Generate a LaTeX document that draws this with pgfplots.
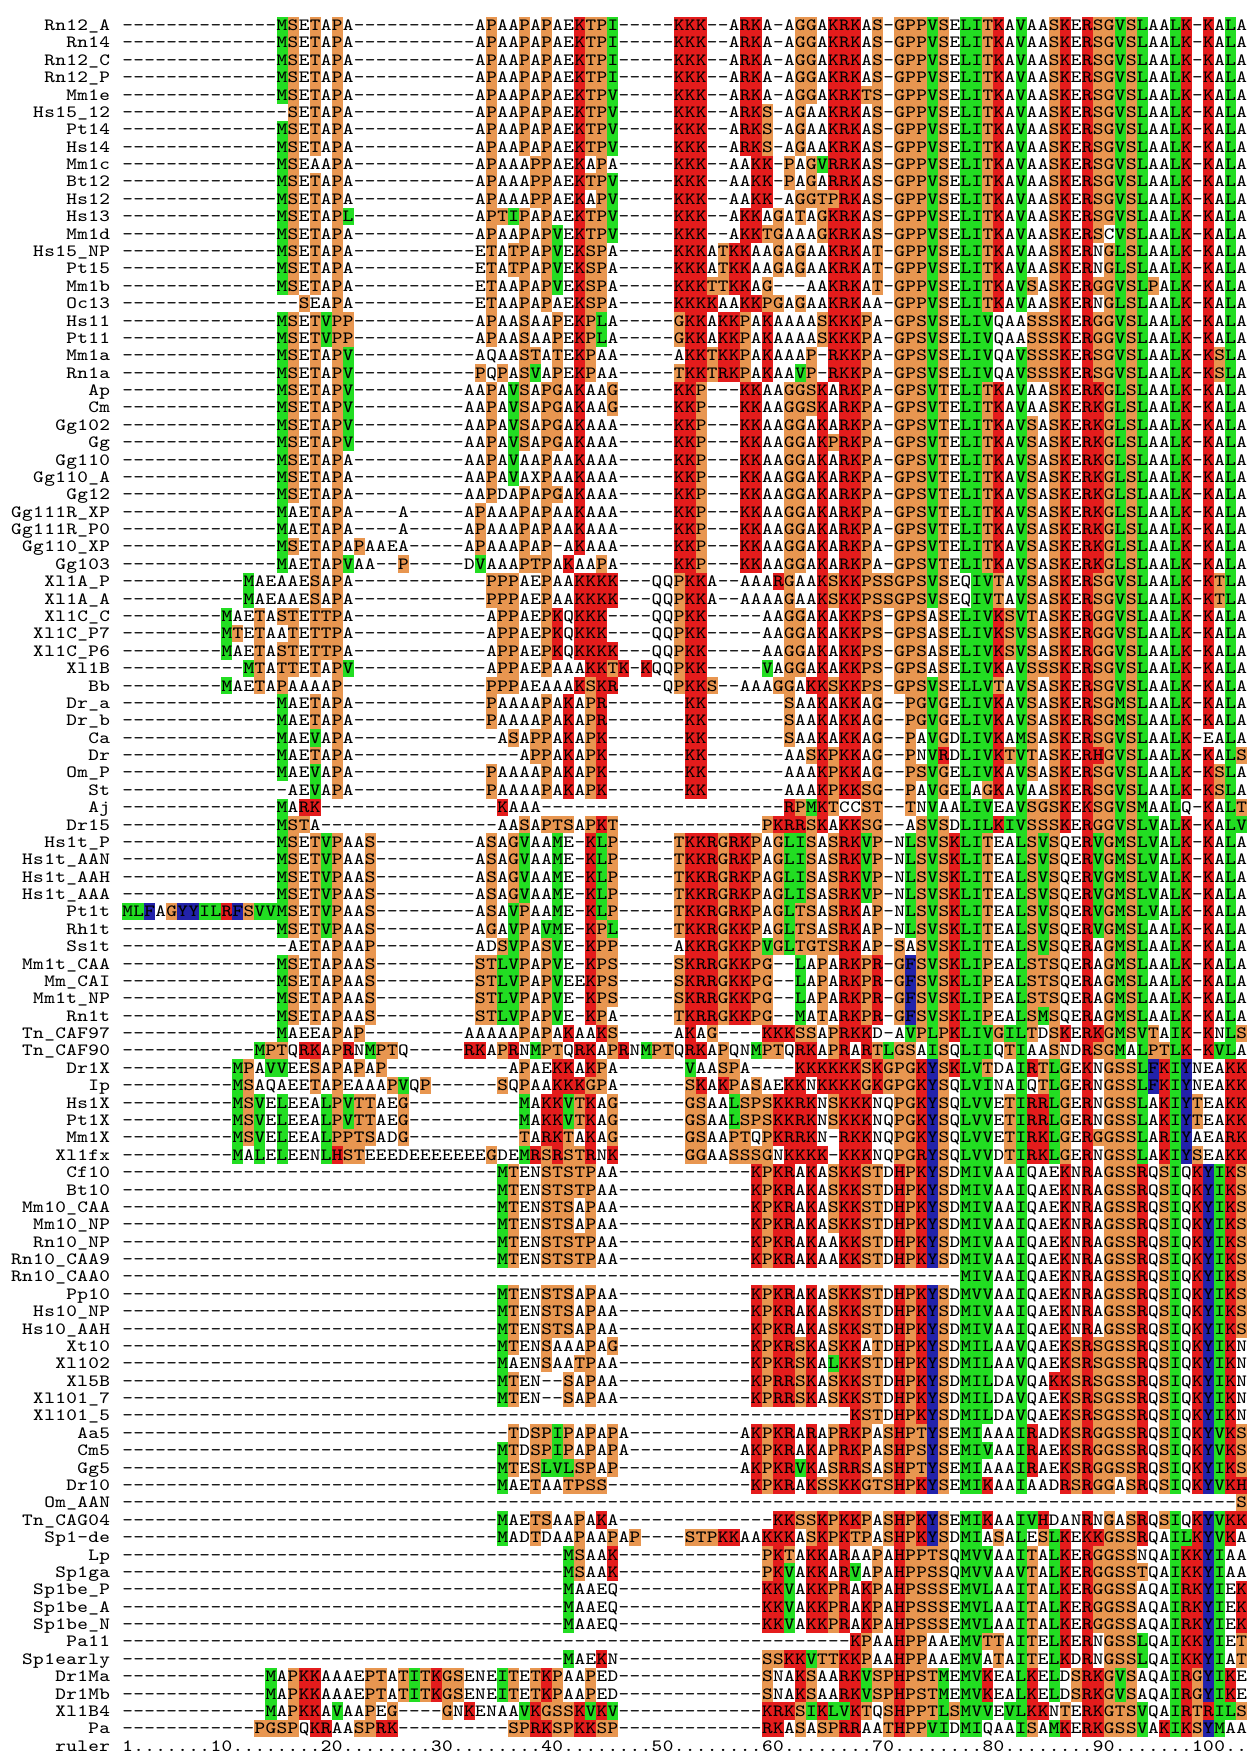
\documentclass[border=0pt]{standalone}
\usepackage{graphicx}
\usepackage{pgfplots}
\pgfplotsset{compat=1.18}
\definecolor{cR}{RGB}{228,28,28}
\definecolor{cO}{RGB}{232,150,80}
\definecolor{cG}{RGB}{34,221,34}
\definecolor{cB}{RGB}{34,34,170}
\newdimen\cw \cw=5.515pt
\newdimen\rh \rh=8.69pt
\newdimen\rd \rd=1.715pt
\newcount\dcnt
\newcount\colno
\def\cellbg#1{\rlap{\color{#1}\rule[-\rd]{\cw}{\rh}}}
\def\setbg#1#2{\expandafter\def\csname bg@#1\endcsname{\cellbg{#2}}}
\setbg{K}{cR}\setbg{R}{cR}\setbg{H}{cR}
\setbg{V}{cG}\setbg{I}{cG}\setbg{L}{cG}\setbg{M}{cG}
\setbg{S}{cO}\setbg{T}{cO}\setbg{P}{cO}\setbg{G}{cO}
\setbg{Y}{cB}\setbg{F}{cB}\setbg{W}{cB}
\def\glyph#1{\makebox[\cw][c]{\scalebox{1.18}[1]{#1}}}
\def\cell#1{\advance\colno by 1 \ifnum\colno<103 \ifcsname bg@#1\endcsname\csname bg@#1\endcsname\fi\glyph{#1}\fi}
\def\seq#1{\colno=0 \seqloop#1\relax}
\def\seqloop#1{\ifx#1\relax\let\seqnext\relax\else\ifx#1/\let\seqnext\dashrun\else\cell{#1}\let\seqnext\seqloop\fi\fi\seqnext}
\def\dashrun#1/{\dcnt=#1\relax\dashloop}
\def\dashloop{\ifnum\dcnt>0 \cell{-}\advance\dcnt by -1 \expandafter\dashloop\else\expandafter\seqloop\fi}
\def\nm#1{\nmloop#1\relax}
\def\nmloop#1{\ifx#1\relax\else\glyph{#1}\expandafter\nmloop\fi}
\newcommand\row[3]{%
  \node[anchor=base east,inner sep=0pt] at (axis cs:110.67,{30.55+(#1-1)*17.38}) {\nm{#2}};
  \node[anchor=base west,inner sep=0pt] at (axis cs:121.7,{30.55+(#1-1)*17.38}) {\seq{#3}};}
\begin{document}
\begin{tikzpicture}[font=\fontsize{8.6}{8.6}\selectfont\ttfamily]
\begin{axis}[width=627pt,height=876.5pt,scale only axis,xmin=0,xmax=1254,ymin=0,ymax=1753,y dir=reverse,hide axis,clip=false]
\addplot[draw=none,forget plot] coordinates {(0,0) (1254,1753)};
\row{1}{Rn12\_A}{/14/MSETAPA/11/APAAPAPAEKTPI/5/KKK--ARKA-AGGAKRKAS-GPPVSELITKAVAASKERSGVSLAALK-KALAA}
\row{2}{Rn14}{/14/MSETAPA/11/APAAPAPAEKTPI/5/KKK--ARKA-AGGAKRKAS-GPPVSELITKAVAASKERSGVSLAALK-KALAA}
\row{3}{Rn12\_C}{/14/MSETAPA/11/APAAPAPAEKTPI/5/KKK--ARKA-AGGAKRKAS-GPPVSELITKAVAASKERSGVSLAALK-KALAA}
\row{4}{Rn12\_P}{/14/MSETAPA/11/APAAPAPAEKTPI/5/KKK--ARKA-AGGAKRKAS-GPPVSELITKAVAASKERSGVSLAALK-KALAA}
\row{5}{Mm1e}{/14/MSETAPA/11/APAAPAPAEKTPV/5/KKK--ARKA-AGGAKRKTS-GPPVSELITKAVAASKERSGVSLAALK-KALAA}
\row{6}{Hs15\_12}{/15/SETAPA/11/APAAPAPAEKTPV/5/KKK--ARKS-AGAAKRKAS-GPPVSELITKAVAASKERSGVSLAALK-KALAA}
\row{7}{Pt14}{/14/MSETAPA/11/APAAPAPAEKTPV/5/KKK--ARKS-AGAAKRKAS-GPPVSELITKAVAASKERSGVSLAALK-KALAA}
\row{8}{Hs14}{/14/MSETAPA/11/APAAPAPAEKTPV/5/KKK--ARKS-AGAAKRKAS-GPPVSELITKAVAASKERSGVSLAALK-KALAA}
\row{9}{Mm1c}{/14/MSEAAPA/11/APAAAPPAEKAPA/5/KKK--AAKK-PAGVRRKAS-GPPVSELITKAVAASKERSGVSLAALK-KALAA}
\row{10}{Bt12}{/14/MSETAPA/11/APAAAPPAEKTPV/5/KKK--AAKK-PAGARRKAS-GPPVSELITKAVAASKERSGVSLAALK-KALAA}
\row{11}{Hs12}{/14/MSETAPA/11/APAAAPPAEKAPV/5/KKK--AAKK-AGGTPRKAS-GPPVSELITKAVAASKERSGVSLAALK-KALAA}
\row{12}{Hs13}{/14/MSETAPL/11/APTIPAPAEKTPV/5/KKK--AKKAGATAGKRKAS-GPPVSELITKAVAASKERSGVSLAALK-KALAA}
\row{13}{Mm1d}{/14/MSETAPA/11/APAAPAPVEKTPV/5/KKK--AKKTGAAAGKRKAS-GPPVSELITKAVAASKERSCVSLAALK-KALAA}
\row{14}{Hs15\_NP}{/14/MSETAPA/11/ETATPAPVEKSPA/5/KKKATKKAAGAGAAKRKAT-GPPVSELITKAVAASKERNGLSLAALK-KALAA}
\row{15}{Pt15}{/14/MSETAPA/11/ETATPAPVEKSPA/5/KKKATKKAAGAGAAKRKAT-GPPVSELITKAVAASKERNGLSLAALK-KALAA}
\row{16}{Mm1b}{/14/MSETAPA/11/ETAAPAPVEKSPA/5/KKKTTKKAG---AAKRKAT-GPPVSELITKAVSASKERGGVSLPALK-KALAA}
\row{17}{Oc13}{/16/SEAPA/11/ETAAPAPAEKSPA/5/KKKKAAKKPGAGAAKRKAA-GPPVSELITKAVAASKERNGLSLAALK-KALAA}
\row{18}{Hs11}{/14/MSETVPP/11/APAASAAPEKPLA/5/GKKAKKPAKAAAASKKKPA-GPSVSELIVQAASSSKERGGVSLAALK-KALAA}
\row{19}{Pt11}{/14/MSETVPP/11/APAASAAPEKPLA/5/GKKAKKPAKAAAASKKKPA-GPSVSELIVQAASSSKERGGVSLAALK-KALAA}
\row{20}{Mm1a}{/14/MSETAPV/11/AQAASTATEKPAA/5/AKKTKKPAKAAAP-RKKPA-GPSVSELIVQAVSSSKERSGVSLAALK-KSLAA}
\row{21}{Rn1a}{/14/MSETAPV/11/PQPASVAPEKPAA/5/TKKTRKPAKAAVP-RKKPA-GPSVSELIVQAVSSSKERSGVSLAALK-KSLAA}
\row{22}{Ap}{/14/MSETAPV/10/AAPAVSAPGAKAAG/5/KKP---KKAAGGSKARKPA-GPSVTELITKAVAASKERKGLSLAALK-KALAA}
\row{23}{Cm}{/14/MSETAPV/10/AAPAVSAPGAKAAG/5/KKP---KKAAGGSKARKPA-GPSVTELITKAVAASKERKGLSLAALK-KALAA}
\row{24}{Gg102}{/14/MSETAPV/10/AAPAVSAPGAKAAA/5/KKP---KKAAGGAKARKPA-GPSVTELITKAVSASKERKGLSLAALK-KALAA}
\row{25}{Gg}{/14/MSETAPV/10/AAPAVSAPGAKAAA/5/KKP---KKAAGGAKPRKPA-GPSVTELITKAVSASKERKGLSLAALK-KALAA}
\row{26}{Gg110}{/14/MSETAPA/10/AAPAVAAPAAKAAA/5/KKP---KKAAGGAKARKPA-GPSVTELITKAVSASKERKGLSLAALK-KALAA}
\row{27}{Gg110\_A}{/14/MSETAPA/10/AAPAVAXPAAKAAA/5/KKP---KKAAGGAKARKPA-GPSVTELITKAVSASKERKGLSLAALK-KALAA}
\row{28}{Gg12}{/14/MSETAPA/10/AAPDAPAPGAKAAA/5/KKP---KKAAGGAKARKPA-GPSVTELITKAVSASKERKGLSLAALK-KALAA}
\row{29}{Gg111R\_XP}{/14/MAETAPA----A-----APAAAPAPAAKAAA/5/KKP---KKAAGGAKARKPA-GPSVTELITKAVSASKERKGLSLAALK-KALAA}
\row{30}{Gg111R\_P0}{/14/MAETAPA----A-----APAAAPAPAAKAAA/5/KKP---KKAAGGAKARKPA-GPSVTELITKAVSASKERKGLSLAALK-KALAA}
\row{31}{Gg110\_XP}{/14/MSETAPAPAAEA-----APAAAPAP-AKAAA/5/KKP---KKAAGGAKARKPA-GPSVTELITKAVSASKERKGLSLAALK-KALAA}
\row{32}{Gg103}{/14/MAETAPVAA--P-----DVAAAPTPAKAAPA/5/KKP---KKAAGGAKARKPA-GPSVTELITKAVSASKERKGLSLAALK-KALAA}
\row{33}{Xl1A\_P}{/11/MAEAAESAPA/12/PPPAEPAAKKKK---QQPKKA--AAARGAAKSKKPSSGPSVSEQIVTAVSASKERSGVSLAALK-KTLAA}
\row{34}{Xl1A\_A}{/11/MAEAAESAPA/12/PPPAEPAAKKKK---QQPKKA--AAAAGAAKSKKPSSGPSVSEQIVTAVSASKERSGVSLAALK-KTLAA}
\row{35}{Xl1C\_C}{/9/MAETASTETTPA/12/APPAEPKQKKK----QQPKK-----AAGGAKAKKPS-GPSASELIVKSVTASKERGGVSLAALK-KALAA}
\row{36}{Xl1C\_P7}{/9/MTETAATETTPA/12/APPAEPKQKKK----QQPKK-----AAGGAKAKKPS-GPSASELIVKSVSASKERGGVSLAALK-KALAA}
\row{37}{Xl1C\_P6}{/9/MAETASTETTPA/12/APPAEPKQKKKK---QQPKK-----AAGGAKAKKPS-GPSASELIVKSVSASKERGGVSLAALK-KALAA}
\row{38}{Xl1B}{/11/MTATTETAPV/12/APPAEPAAAKKTK-KQQPKK-----VAGGAKAKKPS-GPSASELIVKAVSSSKERSGVSLAALK-KALAA}
\row{39}{Bb}{/9/MAETAPAAAAP/13/PPPAEAAAKSKR----QPKKS--AAAGGAKKSKKPS-GPSVSELLVTAVSASKERSGVSLAALK-KALAA}
\row{40}{Dr\_a}{/14/MAETAPA/12/PAAAAPAKAPR/7/KK/7/SAAKAKKAG--PGVGELIVKAVSASKERSGMSLAALK-KALAA}
\row{41}{Dr\_b}{/14/MAETAPA/12/PAAAAPAKAPR/7/KK/7/SAAKAKKAG--PGVGELIVKAVSASKERSGMSLAALK-KALAA}
\row{42}{Ca}{/14/MAEVAPA/13/ASAPPAKAPK/7/KK/7/SAAKAKKAG--PAVGDLIVKAMSASKERSGVSLAALK-EALAA}
\row{43}{Dr}{/14/MAETAPA/15/APPAKAPK/7/KK/7/AASKPKKAG--PNVRDLIVKTVTASKERHGVSLAALK-KALSA}
\row{44}{Om\_P}{/14/MAEVAPA/12/PAAAAPAKAPK/7/KK/7/AAAKPKKAG--PSVGELIVKAVSASKERSGVSLAALK-KSLAA}
\row{45}{St}{/15/AEVAPA/12/PAAAAPAKAPK/7/KK/7/AAAKPKKSG--PAVGELAGKAVAASKERSGVSLAALK-KSLAA}
\row{46}{Aj}{/14/MARK/16/KAAA/22/RPMKTCCST--TNVAALIVEAVSGSKEKSGVSMAALQ-KALTA}
\row{47}{Dr15}{/14/MSTA/16/AASAPTSAPKT/13/PKRRSKAKKSG--ASVSDLILKIVSSSKERGGVSLVALK-KALVA}
\row{48}{Hs1t\_P}{/14/MSETVPAAS/9/ASAGVAAME-KLP/5/TKKRGRKPAGLISASRKVP-NLSVSKLITEALSVSQERVGMSLVALK-KALAA}
\row{49}{Hs1t\_AAN}{/14/MSETVPAAS/9/ASAGVAAME-KLP/5/TKKRGRKPAGLISASRKVP-NLSVSKLITEALSVSQERVGMSLVALK-KALAA}
\row{50}{Hs1t\_AAH}{/14/MSETVPAAS/9/ASAGVAAME-KLP/5/TKKRGRKPAGLISASRKVP-NLSVSKLITEALSVSQERVGMSLVALK-KALAA}
\row{51}{Hs1t\_AAA}{/14/MSETVPAAS/9/ASAGVAAME-KLP/5/TKKRGRKPAGLISASRKVP-NLSVSKLITEALSVSQERVGMSLVALK-KALAA}
\row{52}{Pt1t}{MLFAGYYILRFSVVMSETVPAAS/9/ASAVPAAME-KLP/5/TKKRGRKPAGLTSASRKAP-NLSVSKLITEALSVSQERVGMSLVALK-KALAA}
\row{53}{Rh1t}{/14/MSETVPAAS/9/AGAVPAVME-KPL/5/TKKRGKKPAGLTSASRKAP-NLSVSKLITEALSVSQERVGMSLAALK-KALAA}
\row{54}{Ss1t}{/15/AETAPAAP/9/ADSVPASVE-KPP/5/AKKRGKKPVGLTGTSRKAP-SASVSKLITEALSVSQERAGMSLAALK-KALAA}
\row{55}{Mm1t\_CAA}{/14/MSETAPAAS/9/STLVPAPVE-KPS/5/SKRRGKKPG--LAPARKPR-GFSVSKLIPEALSTSQERAGMSLAALK-KALAA}
\row{56}{Mm\_CAI}{/14/MSETAPAAS/9/STLVPAPVEEKPS/5/SKRRGKKPG--LAPARKPR-GFSVSKLIPEALSTSQERAGMSLAALK-KALAA}
\row{57}{Mm1t\_NP}{/14/MSETAPAAS/9/STLVPAPVE-KPS/5/SKRRGKKPG--LAPARKPR-GFSVSKLIPEALSTSQERAGMSLAALK-KALAA}
\row{58}{Rn1t}{/14/MSETAPAAS/9/STLVPAPVE-KPA/5/TKRRGKKPG--MATARKPR-GFSVSKLIPEALSMSQERAGMSLAALK-KALAA}
\row{59}{Tn\_CAF97}{/14/MAEEAPAP/9/AAAAAPAPAKAAKS/5/AKAG----KKKSSAPRKKD-AVPLPKLIVGILTDSKERKGMSVTAIK-KNLSA}
\row{60}{Tn\_CAF90}{/12/MPTQRKAPRNMPTQ/5/RKAPRNMPTQRKAPRNMPTQRKAPQNMPTQRKAPRARTLGSAISQLIIQTIAASNDRSGMALPTLK-KVLAA}
\row{61}{Dr1X}{/10/MPAVVEESAPAPAP/11/APAEKKAKPA/6/VAASPA----KKKKKKSKGPGKYSKLVTDAIRTLGEKNGSSLFKIYNEAKKV}
\row{62}{Ip}{/10/MSAQAEETAPEAAAPVQP/6/SQPAAKKKGPA/6/SKAKPASAEKKNKKKKGKGPGKYSQLVINAIQTLGERNGSSLFKIYNEAKKV}
\row{63}{Hs1X}{/10/MSVELEEALPVTTAEG/10/MAKKVTKAG/6/GSAALSPSKKRKNSKKKNQPGKYSQLVVETIRRLGERNGSSLAKIYTEAKKV}
\row{64}{Pt1X}{/10/MSVELEEALPVTTAEG/10/MAKKVTKAG/6/GSAALSPSKKRKNSKKKNQPGKYSQLVVETIRRLGERNGSSLAKIYTEAKKV}
\row{65}{Mm1X}{/10/MSVELEEALPPTSADG/10/TARKTAKAG/6/GSAAPTQPKRRKN-RKKNQPGKYSQLVVETIRKLGERGGSSLARIYAEARKV}
\row{66}{Xl1fx}{/10/MALELEENLHSTEEEDEEEEEEEGDEMRSRSTRNK/6/GGAASSSGNKKKK-KKKNQPGRYSQLVVDTIRKLGERNGSSLAKIYSEAKKV}
\row{67}{Cf10}{/34/MTENSTSTPAA/12/KPKRAKASKKSTDHPKYSDMIVAAIQAEKNRAGSSRQSIQKYIKSH}
\row{68}{Bt10}{/34/MTENSTSTPAA/12/KPKRAKASKKSTDHPKYSDMIVAAIQAEKNRAGSSRQSIQKYIKSH}
\row{69}{Mm10\_CAA}{/34/MTENSTSAPAA/12/KPKRAKASKKSTDHPKYSDMIVAAIQAEKNRAGSSRQSIQKYIKSH}
\row{70}{Mm10\_NP}{/34/MTENSTSAPAA/12/KPKRAKASKKSTDHPKYSDMIVAAIQAEKNRAGSSRQSIQKYIKSH}
\row{71}{Rn10\_NP}{/34/MTENSTSTPAA/12/KPKRAKAAKKSTDHPKYSDMIVAAIQAEKNRAGSSRQSIQKYIKSH}
\row{72}{Rn10\_CAA9}{/34/MTENSTSTPAA/12/KPKRAKAAKKSTDHPKYSDMIVAAIQAEKNRAGSSRQSIQKYIKSH}
\row{73}{Rn10\_CAA0}{/76/MIVAAIQAEKNRAGSSRQSIQKYIKSH}
\row{74}{Pp10}{/34/MTENSTSAPAA/12/KPKRAKASKKSTDHPKYSDMVVAAIQAEKNRAGSSRQSIQKYIKSH}
\row{75}{Hs10\_NP}{/34/MTENSTSAPAA/12/KPKRAKASKKSTDHPKYSDMIVAAIQAEKNRAGSSRQSIQKYIKSH}
\row{76}{Hs10\_AAH}{/34/MTENSTSAPAA/12/KPKRAKASKKSTDHPKYSDMIVAAIQAEKNRAGSSRQSIQKYIKSH}
\row{77}{Xt10}{/34/MTENSAAAPAG/12/KPKRSKASKKATDHPKYSDMILAAVQAEKSRSGSSRQSIQKYIKNH}
\row{78}{Xl102}{/34/MAENSAATPAA/12/KPKRSKALKKSTDHPKYSDMILAAVQAEKSRSGSSRQSIQKYIKNH}
\row{79}{Xl5B}{/34/MTEN--SAPAA/12/KPRRSKASKKSTDHPKYSDMILDAVQAKKSRSGSSRQSIQKYIKNN}
\row{80}{Xl101\_7}{/34/MTEN--SAPAA/12/KPRRSKASKKSTDHPKYSDMILDAVQAEKSRSGSSRQSIQKYIKNN}
\row{81}{Xl101\_5}{/66/KSTDHPKYSDMILDAVQAEKSRSGSSRQSIQKYIKNN}
\row{82}{Aa5}{/35/TDSPIPAPAPA/10/AKPKRARAPRKPASHPTYSEMIAAAIRADKSRGGSSRQSIQKYVKSH}
\row{83}{Cm5}{/34/MTDSPIPAPAPA/10/AKPKRAKAPRKPASHPSYSEMIVAAIRAEKSRGGSSRQSIQKYVKSH}
\row{84}{Gg5}{/34/MTESLVLSPAP/11/AKPKRVKASRRSASHPTYSEMIAAAIRAEKSRGGSSRQSIQKYIKSH}
\row{85}{Dr10}{/34/MAETAATPSS/13/KPKRAKSSKKGTSHPKYSEMIKAAIAADRSRGGASRQSIQKYVKHH}
\row{86}{Om\_AAN}{/101/SH}
\row{87}{Tn\_CAG04}{/34/MAETSAAPAKA/14/KKSSKPKKPASHPKYSEMIKAAIVHDANRNGASRQSIQKYVKKN}
\row{88}{Sp1-de}{/34/MADTDAAPAAPAP----STPKKAAKKKASKPKTPASHPKYSDMIASALESLKEKKGSSRQAILKYVKAN}
\row{89}{Lp}{/40/MSAAK/13/PKTAKKARAAPAHPPTSQMVVAAITALKERGGSSNQAIKKYIAAN}
\row{90}{Sp1ga}{/40/MSAAK/13/PKVAKKARVAPAHPPSSQMVVAAVTALKERGGSSTQAIKKYIAAN}
\row{91}{Sp1be\_P}{/40/MAAEQ/13/KKVAKKPRAKPAHPSSSEMVLAAITALKERGGSSAQAIRKYIEKN}
\row{92}{Sp1be\_A}{/40/MAAEQ/13/KKVAKKPRAKPAHPSSSEMVLAAITALKERGGSSAQAIRKYIEKN}
\row{93}{Sp1be\_N}{/40/MAAEQ/13/KKVAKKPRAKPAHPSSSEMVLAAITALKERGGSSAQAIRKYIEKN}
\row{94}{Pa11}{/66/KPAAHPPAAEMVTTAITELKERNGSSLQAIKKYIETN}
\row{95}{Sp1early}{/40/MAEKN/13/SSKKVTTKKPAAHPPAAEMVATAITELKDRNGSSLQAIKKYIATN}
\row{96}{Dr1Ma}{/13/MAPKKAAAEPTATITKGSENEITETKPAAPED/13/SNAKSAARKVSPHPSTMEMVKEALKELDSRKGVSAQAIRGYIKEK}
\row{97}{Dr1Mb}{/13/MAPKKAAAEPTATITKGSENEITETKPAAPED/13/SNAKSAARKVSPHPSTMEMVKEALKELDSRKGVSAQAIRGYIKEK}
\row{98}{Xl1B4}{/13/MAPKKAVAAPEG----GNKENAAVKGSSKVKV/13/KRKSIKLVKTQSHPPTLSMVVEVLKKNTERKGTSVQAIRTRILSA}
\row{99}{Pa}{/12/PGSPQKRAASPRK/10/SPRKSPKKSP/13/RKASASPRRAATHPPVIDMIQAAISAMKERKGSSVAKIKSYMAAN}
\row{100}{ruler}{1.......10........20........30........40........50........60........70........80........90.......100...}
\end{axis}
\pgfresetboundingbox
\path (0,0) rectangle (627pt,876.5pt);
\end{tikzpicture}
\end{document}
